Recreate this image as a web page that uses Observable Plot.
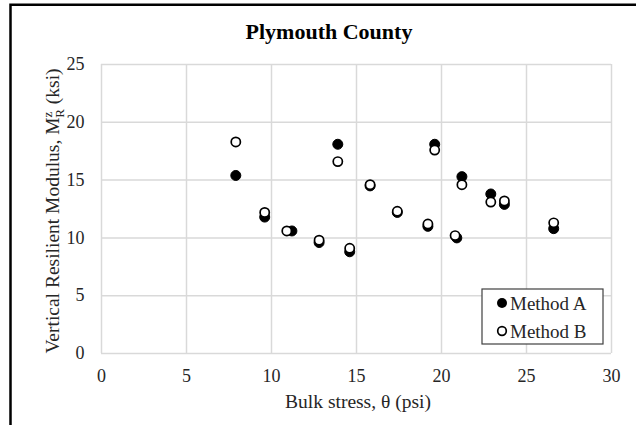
<!DOCTYPE html>
<html><head><meta charset="utf-8">
<script src="https://cdn.jsdelivr.net/npm/d3@7"></script>
<script src="https://cdn.jsdelivr.net/npm/@observablehq/plot@0.6"></script>
<style>
html,body{margin:0;padding:0;background:#fff;}
#chart{width:636px;height:425px;overflow:hidden;}
svg{display:block;}
</style></head>
<body><div id="chart"></div>
<script>
const title = "Plymouth County";
const xLabel = "Bulk stress, θ (psi)";
const xTicks = [0, 5, 10, 15, 20, 25, 30];
const yTicks = [0, 5, 10, 15, 20, 25];
const seriesNames = ["Method A", "Method B"];
const stressA = [7.9, 9.6, 11.2, 12.8, 13.9, 14.6, 15.8, 17.4, 19.2, 19.6, 20.9, 21.2, 22.9, 23.7, 26.6];
const modulusA = [15.4, 11.8, 10.6, 9.6, 18.1, 8.8, 14.5, 12.2, 11.0, 18.1, 10.0, 15.3, 13.8, 12.9, 10.8];
const stressB = [7.9, 9.6, 10.9, 12.8, 13.9, 14.6, 15.8, 17.4, 19.2, 19.6, 20.8, 21.2, 22.9, 23.7, 26.6];
const modulusB = [18.3, 12.2, 10.6, 9.8, 16.6, 9.1, 14.6, 12.3, 11.2, 17.6, 10.2, 14.6, 13.1, 13.2, 11.3];

const dataA = stressA.map((x, i) => ({x, y: modulusA[i]}));
const dataB = stressB.map((x, i) => ({x, y: modulusB[i]}));

const font = "'Liberation Serif', 'Times New Roman', serif";
const txt = "#262626";
const W = 636, H = 425;
const plot = Plot.plot({
  width: W, height: H,
  marginLeft: 101, marginRight: 25, marginTop: 64, marginBottom: 72,
  style: {fontFamily: font, fontSize: "18px", color: txt, background: "#fff"},
  x: {domain: [0, 30], ticks: xTicks, label: null},
  y: {domain: [0, 25], ticks: yTicks, label: null},
  marks: [
    Plot.gridX(xTicks, {stroke: "#d9d9d9", strokeOpacity: 1, strokeWidth: 1.5}),
    Plot.gridY(yTicks, {stroke: "#d9d9d9", strokeOpacity: 1, strokeWidth: 1.5}),
    Plot.axisX({ticks: xTicks, tickSize: 0, tickPadding: 16, label: null, fill: txt}),
    Plot.axisY({ticks: yTicks, tickSize: 0, tickPadding: 17, label: null, fill: txt}),
    Plot.dot(dataA, {x: "x", y: "y", r: 5, fill: "black", stroke: "black", strokeWidth: 1}),
    Plot.dot(dataB, {x: "x", y: "y", r: 4.6, fill: "white", stroke: "black", strokeWidth: 1.7})
  ]
});
document.getElementById("chart").appendChild(plot);
const svg = d3.select(plot);

// title
svg.append("text").attr("x", 329).attr("y", 39).attr("text-anchor", "middle")
  .attr("font-family", font).attr("font-size", 22).attr("font-weight", "bold").attr("fill", "#000")
  .text(title);
// x label
svg.append("text").attr("x", 358).attr("y", 408).attr("text-anchor", "middle")
  .attr("font-family", font).attr("font-size", 19.5).attr("fill", txt)
  .text(xLabel);
// y label with super/subscript
const yl = svg.append("text").attr("transform", "translate(59,211) rotate(-90)")
  .attr("text-anchor", "middle").attr("font-family", font).attr("font-size", 19.5).attr("fill", txt);
yl.append("tspan").text("Vertical Resilient Modulus, M");
yl.append("tspan").attr("font-size", 13).attr("dy", -7).text("z");
yl.append("tspan").attr("font-size", 13).attr("dx", -6).attr("dy", 12).text("R");
yl.append("tspan").attr("dy", -5).text(" (ksi)");

// legend
const lg = svg.append("g").attr("text-anchor", "start");
lg.append("rect").attr("x", 482).attr("y", 289).attr("width", 121).attr("height", 55)
  .attr("fill", "white").attr("stroke", "#404040").attr("stroke-width", 1.2);
lg.append("circle").attr("cx", 502).attr("cy", 303).attr("r", 5).attr("fill", "black");
lg.append("text").attr("x", 510).attr("y", 309.5).attr("text-anchor", "start").attr("font-family", font).attr("font-size", 19).attr("fill", txt).text(seriesNames[0]);
lg.append("circle").attr("cx", 502).attr("cy", 331).attr("r", 4.3).attr("fill", "white").attr("stroke", "black").attr("stroke-width", 1.7);
lg.append("text").attr("x", 510).attr("y", 337.5).attr("text-anchor", "start").attr("font-family", font).attr("font-size", 19).attr("fill", txt).text(seriesNames[1]);

// outer frame (left and top edges)
svg.append("path").attr("d", "M10.5,425 L10.5,4.8 L636,4.8").attr("fill", "none").attr("stroke", "black").attr("stroke-width", 2.5);
</script>
</body></html>
